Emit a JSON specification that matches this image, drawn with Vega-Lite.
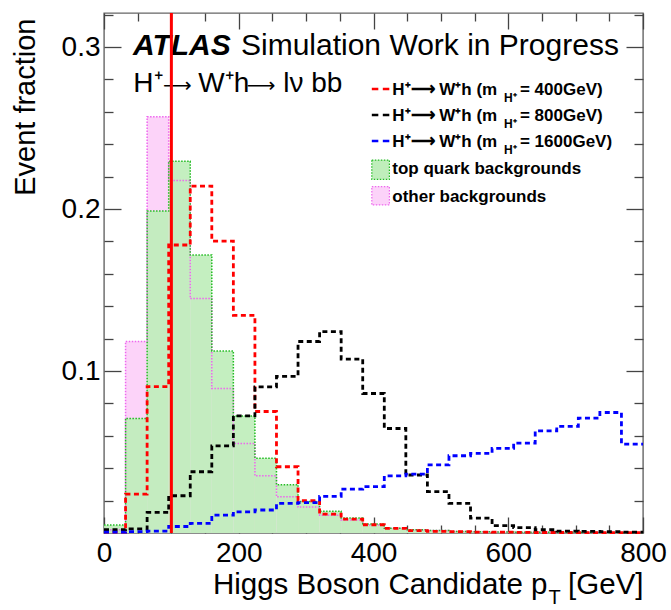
{
  "$schema": "https://vega.github.io/schema/vega-lite/v6.json",
  "autosize": {"type": "none"},
  "width": 539,
  "height": 520,
  "padding": {"left": 104, "top": 13, "right": 28, "bottom": 77},
  "background": "white",
  "data": {"values": [{}]},
  "config": {
    "view": {"stroke": "#666666", "strokeWidth": 1.4},
    "axis": {
      "domain": false,
      "grid": false,
      "labelFont": "Liberation Sans",
      "labelFontSize": 28,
      "labelColor": "#000000",
      "tickColor": "#444444",
      "tickWidth": 1.3,
      "titleFont": "Liberation Sans",
      "titleFontWeight": "normal",
      "titleColor": "#000000"
    },
    "text": {"font": "Liberation Sans", "color": "#000000"}
  },
  "datasets": {
    "hist": [
      {"s": "other", "lo": 0, "hi": 32, "v": 0.002},
      {"s": "other", "lo": 32, "hi": 64, "v": 0.1182},
      {"s": "other", "lo": 64, "hi": 96, "v": 0.2569},
      {"s": "other", "lo": 96, "hi": 128, "v": 0.2176},
      {"s": "other", "lo": 128, "hi": 160, "v": 0.1447},
      {"s": "other", "lo": 160, "hi": 192, "v": 0.0892},
      {"s": "other", "lo": 192, "hi": 224, "v": 0.0553},
      {"s": "other", "lo": 224, "hi": 256, "v": 0.0353},
      {"s": "other", "lo": 256, "hi": 288, "v": 0.0224},
      {"s": "other", "lo": 288, "hi": 320, "v": 0.016},
      {"s": "other", "lo": 320, "hi": 352, "v": 0.011},
      {"s": "other", "lo": 352, "hi": 384, "v": 0.008},
      {"s": "other", "lo": 384, "hi": 416, "v": 0.005},
      {"s": "other", "lo": 416, "hi": 448, "v": 0.003},
      {"s": "other", "lo": 448, "hi": 480, "v": 0.002},
      {"s": "other", "lo": 480, "hi": 512, "v": 0.0015},
      {"s": "other", "lo": 512, "hi": 544, "v": 0.001},
      {"s": "other", "lo": 544, "hi": 576, "v": 0.0008},
      {"s": "other", "lo": 576, "hi": 608, "v": 0.0006},
      {"s": "other", "lo": 608, "hi": 640, "v": 0.0005},
      {"s": "other", "lo": 640, "hi": 672, "v": 0.0004},
      {"s": "other", "lo": 672, "hi": 704, "v": 0.0003},
      {"s": "other", "lo": 704, "hi": 736, "v": 0.0003},
      {"s": "other", "lo": 736, "hi": 768, "v": 0.0002},
      {"s": "other", "lo": 768, "hi": 800, "v": 0.0002},
      {"s": "top", "lo": 0, "hi": 32, "v": 0.0049},
      {"s": "top", "lo": 32, "hi": 64, "v": 0.0707},
      {"s": "top", "lo": 64, "hi": 96, "v": 0.1987},
      {"s": "top", "lo": 96, "hi": 128, "v": 0.2295},
      {"s": "top", "lo": 128, "hi": 160, "v": 0.1716},
      {"s": "top", "lo": 160, "hi": 192, "v": 0.1124},
      {"s": "top", "lo": 192, "hi": 224, "v": 0.0723},
      {"s": "top", "lo": 224, "hi": 256, "v": 0.0462},
      {"s": "top", "lo": 256, "hi": 288, "v": 0.0298},
      {"s": "top", "lo": 288, "hi": 320, "v": 0.0195},
      {"s": "top", "lo": 320, "hi": 352, "v": 0.0134},
      {"s": "top", "lo": 352, "hi": 384, "v": 0.0092},
      {"s": "top", "lo": 384, "hi": 416, "v": 0.0055},
      {"s": "top", "lo": 416, "hi": 448, "v": 0.0029},
      {"s": "top", "lo": 448, "hi": 480, "v": 0.002},
      {"s": "top", "lo": 480, "hi": 512, "v": 0.0015},
      {"s": "top", "lo": 512, "hi": 544, "v": 0.001},
      {"s": "top", "lo": 544, "hi": 576, "v": 0.0008},
      {"s": "top", "lo": 576, "hi": 608, "v": 0.0006},
      {"s": "top", "lo": 608, "hi": 640, "v": 0.0005},
      {"s": "top", "lo": 640, "hi": 672, "v": 0.0004},
      {"s": "top", "lo": 672, "hi": 704, "v": 0.0003},
      {"s": "top", "lo": 704, "hi": 736, "v": 0.0003},
      {"s": "top", "lo": 736, "hi": 768, "v": 0.0002},
      {"s": "top", "lo": 768, "hi": 800, "v": 0.0002},
      {"s": "m400", "lo": 0, "hi": 32, "v": 0.0005},
      {"s": "m400", "lo": 32, "hi": 64, "v": 0.024},
      {"s": "m400", "lo": 64, "hi": 96, "v": 0.0904},
      {"s": "m400", "lo": 96, "hi": 128, "v": 0.1778},
      {"s": "m400", "lo": 128, "hi": 160, "v": 0.2141},
      {"s": "m400", "lo": 160, "hi": 192, "v": 0.1802},
      {"s": "m400", "lo": 192, "hi": 224, "v": 0.1344},
      {"s": "m400", "lo": 224, "hi": 256, "v": 0.075},
      {"s": "m400", "lo": 256, "hi": 288, "v": 0.0409},
      {"s": "m400", "lo": 288, "hi": 320, "v": 0.0199},
      {"s": "m400", "lo": 320, "hi": 352, "v": 0.0117},
      {"s": "m400", "lo": 352, "hi": 384, "v": 0.0086},
      {"s": "m400", "lo": 384, "hi": 416, "v": 0.0051},
      {"s": "m400", "lo": 416, "hi": 448, "v": 0.0029},
      {"s": "m400", "lo": 448, "hi": 480, "v": 0.0015},
      {"s": "m400", "lo": 480, "hi": 512, "v": 0.001},
      {"s": "m400", "lo": 512, "hi": 544, "v": 0.0008},
      {"s": "m400", "lo": 544, "hi": 576, "v": 0.0006},
      {"s": "m400", "lo": 576, "hi": 608, "v": 0.0005},
      {"s": "m400", "lo": 608, "hi": 640, "v": 0.0004},
      {"s": "m400", "lo": 640, "hi": 672, "v": 0.0003},
      {"s": "m400", "lo": 672, "hi": 704, "v": 0.0003},
      {"s": "m400", "lo": 704, "hi": 736, "v": 0.0002},
      {"s": "m400", "lo": 736, "hi": 768, "v": 0.0002},
      {"s": "m400", "lo": 768, "hi": 800, "v": 0.0002},
      {"s": "m800", "lo": 0, "hi": 32, "v": 0.002},
      {"s": "m800", "lo": 32, "hi": 64, "v": 0.0025},
      {"s": "m800", "lo": 64, "hi": 96, "v": 0.0127},
      {"s": "m800", "lo": 96, "hi": 128, "v": 0.023},
      {"s": "m800", "lo": 128, "hi": 160, "v": 0.0378},
      {"s": "m800", "lo": 160, "hi": 192, "v": 0.0538},
      {"s": "m800", "lo": 192, "hi": 224, "v": 0.0723},
      {"s": "m800", "lo": 224, "hi": 256, "v": 0.0902},
      {"s": "m800", "lo": 256, "hi": 288, "v": 0.0967},
      {"s": "m800", "lo": 288, "hi": 320, "v": 0.1182},
      {"s": "m800", "lo": 320, "hi": 352, "v": 0.1243},
      {"s": "m800", "lo": 352, "hi": 384, "v": 0.1073},
      {"s": "m800", "lo": 384, "hi": 416, "v": 0.0861},
      {"s": "m800", "lo": 416, "hi": 448, "v": 0.0645},
      {"s": "m800", "lo": 448, "hi": 480, "v": 0.0358},
      {"s": "m800", "lo": 480, "hi": 512, "v": 0.0255},
      {"s": "m800", "lo": 512, "hi": 544, "v": 0.0183},
      {"s": "m800", "lo": 544, "hi": 576, "v": 0.0092},
      {"s": "m800", "lo": 576, "hi": 608, "v": 0.0045},
      {"s": "m800", "lo": 608, "hi": 640, "v": 0.0033},
      {"s": "m800", "lo": 640, "hi": 672, "v": 0.002},
      {"s": "m800", "lo": 672, "hi": 704, "v": 0.0012},
      {"s": "m800", "lo": 704, "hi": 736, "v": 0.001},
      {"s": "m800", "lo": 736, "hi": 768, "v": 0.0008},
      {"s": "m800", "lo": 768, "hi": 800, "v": 0.0006},
      {"s": "m1600", "lo": 0, "hi": 32, "v": 0.0005},
      {"s": "m1600", "lo": 32, "hi": 64, "v": 0.0008},
      {"s": "m1600", "lo": 64, "hi": 96, "v": 0.0012},
      {"s": "m1600", "lo": 96, "hi": 128, "v": 0.004},
      {"s": "m1600", "lo": 128, "hi": 160, "v": 0.006},
      {"s": "m1600", "lo": 160, "hi": 192, "v": 0.011},
      {"s": "m1600", "lo": 192, "hi": 224, "v": 0.0131},
      {"s": "m1600", "lo": 224, "hi": 256, "v": 0.0142},
      {"s": "m1600", "lo": 256, "hi": 288, "v": 0.0183},
      {"s": "m1600", "lo": 288, "hi": 320, "v": 0.0187},
      {"s": "m1600", "lo": 320, "hi": 352, "v": 0.0226},
      {"s": "m1600", "lo": 352, "hi": 384, "v": 0.0271},
      {"s": "m1600", "lo": 384, "hi": 416, "v": 0.0286},
      {"s": "m1600", "lo": 416, "hi": 448, "v": 0.0353},
      {"s": "m1600", "lo": 448, "hi": 480, "v": 0.0364},
      {"s": "m1600", "lo": 480, "hi": 512, "v": 0.0421},
      {"s": "m1600", "lo": 512, "hi": 544, "v": 0.0477},
      {"s": "m1600", "lo": 544, "hi": 576, "v": 0.0491},
      {"s": "m1600", "lo": 576, "hi": 608, "v": 0.0522},
      {"s": "m1600", "lo": 608, "hi": 640, "v": 0.0555},
      {"s": "m1600", "lo": 640, "hi": 672, "v": 0.0631},
      {"s": "m1600", "lo": 672, "hi": 704, "v": 0.0658},
      {"s": "m1600", "lo": 704, "hi": 736, "v": 0.0709},
      {"s": "m1600", "lo": 736, "hi": 768, "v": 0.0744},
      {"s": "m1600", "lo": 768, "hi": 800, "v": 0.0549}
    ]
  },
  "resolve": {"axis": {"x": "independent", "y": "independent"}},
  "layer": [
    {
      "description": "other backgrounds, filled bins; carries the labelled bottom and left axes",
      "data": {"name": "hist"},
      "transform": [{"filter": "datum.s == 'other'"}],
      "mark": {"type": "rect", "fill": "#fcd3f9"},
      "encoding": {
        "x": {"field": "lo", "type": "quantitative",
          "scale": {"domain": [0, 800], "nice": false, "zero": false},
          "axis": {"orient": "bottom", "values": [0, 200, 400, 600, 800], "ticks": false,
            "labelPadding": 6, "labelFlush": false, "labelOverlap": false,
            "title": "Higgs Boson Candidate p", "titleFontSize": 29.5, "titleAnchor": null,
            "titleAlign": "right", "titleBaseline": "alphabetic", "titleX": 443, "titleY": 60}},
        "x2": {"field": "hi"},
        "y": {"field": "v", "type": "quantitative",
          "scale": {"domain": [0, 0.321], "nice": false, "zero": false},
          "axis": {"orient": "left", "values": [0.1, 0.2, 0.3], "format": ".1f", "ticks": false,
            "labelPadding": 4, "labelOverlap": false,
            "title": "Event fraction", "titleFontSize": 29, "titleAngle": 270,
            "titleAlign": "right", "titleBaseline": "alphabetic", "titleX": -70, "titleY": 5}},
        "y2": {"datum": 0}
      }
    },
    {
      "description": "top quark backgrounds, filled bins; major ticks on bottom and left",
      "data": {"name": "hist"},
      "transform": [{"filter": "datum.s == 'top'"}],
      "mark": {"type": "rect", "fill": "#bfeebb", "opacity": 0.92},
      "encoding": {
        "x": {"field": "lo", "type": "quantitative",
          "axis": {"orient": "bottom", "values": [0, 200, 400, 600, 800], "labels": false,
            "tickSize": -16, "title": "T", "titleFontSize": 20, "titleAnchor": null,
            "titleAlign": "left", "titleBaseline": "alphabetic", "titleX": 444, "titleY": 70}},
        "x2": {"field": "hi"},
        "y": {"field": "v", "type": "quantitative",
          "axis": {"orient": "left", "values": [0.1, 0.2, 0.3], "labels": false, "tickSize": -17, "title": null}},
        "y2": {"datum": 0}
      }
    },
    {
      "description": "other backgrounds outline; minor ticks on bottom and left",
      "data": {"name": "hist"},
      "transform": [{"filter": "datum.s == 'other'"}, {"fold": ["lo", "hi"], "as": ["k", "edge"]}],
      "mark": {"type": "line", "stroke": "#ee66ee", "strokeWidth": 1.5, "strokeDash": [1.5, 1.5]},
      "encoding": {
        "x": {"field": "edge", "type": "quantitative",
          "axis": {"orient": "bottom", "values": [50, 100, 150, 250, 300, 350, 450, 500, 550, 650, 700, 750],
            "labels": false, "tickSize": -8, "title": "[GeV]", "titleFontSize": 29.5, "titleAnchor": null,
            "titleAlign": "right", "titleBaseline": "alphabetic", "titleX": 539, "titleY": 60}},
        "y": {"field": "v", "type": "quantitative",
          "axis": {"orient": "left", "values": [0.02, 0.04, 0.06, 0.08, 0.12, 0.14, 0.16, 0.18, 0.22, 0.24, 0.26, 0.28, 0.32],
            "labels": false, "tickSize": -9, "title": null}},
        "order": {"value": null}
      }
    },
    {
      "description": "top quark backgrounds outline; major ticks on top and right",
      "data": {"name": "hist"},
      "transform": [{"filter": "datum.s == 'top'"}, {"fold": ["lo", "hi"], "as": ["k", "edge"]}],
      "mark": {"type": "line", "stroke": "#22bb22", "strokeWidth": 1.5, "strokeDash": [1.5, 1.5]},
      "encoding": {
        "x": {"field": "edge", "type": "quantitative",
          "axis": {"orient": "top", "values": [0, 200, 400, 600, 800], "labels": false, "tickSize": -16, "title": null}},
        "y": {"field": "v", "type": "quantitative",
          "axis": {"orient": "right", "values": [0.1, 0.2, 0.3], "labels": false, "tickSize": -17, "title": null}},
        "order": {"value": null}
      }
    },
    {
      "description": "signal histograms as dashed step outlines; minor ticks on top and right",
      "data": {"name": "hist"},
      "transform": [{"filter": "datum.s == 'm400' || datum.s == 'm800' || datum.s == 'm1600'"}, {"fold": ["lo", "hi"], "as": ["k", "edge"]}],
      "mark": {"type": "line", "strokeWidth": 2.8, "strokeDash": [5, 3.5]},
      "encoding": {
        "x": {"field": "edge", "type": "quantitative",
          "axis": {"orient": "top", "values": [50, 100, 150, 250, 300, 350, 450, 500, 550, 650, 700, 750],
            "labels": false, "tickSize": -8, "title": null}},
        "y": {"field": "v", "type": "quantitative",
          "axis": {"orient": "right", "values": [0.02, 0.04, 0.06, 0.08, 0.12, 0.14, 0.16, 0.18, 0.22, 0.24, 0.26, 0.28, 0.32],
            "labels": false, "tickSize": -9, "title": null}},
        "stroke": {"field": "s", "type": "nominal",
          "scale": {"domain": ["m400", "m800", "m1600"], "range": ["#ff0000", "#000000", "#0000ff"]}, "legend": null},
        "order": {"value": null}
      }
    },
    {
      "mark": {"type": "text", "fontSize": 30, "fontWeight": "bold", "fontStyle": "italic", "align": "left", "baseline": "alphabetic"},
      "encoding": {"x": {"datum": 43, "axis": null}, "y": {"datum": 0.2951, "axis": null}, "text": {"value": "ATLAS"}}
    },
    {
      "mark": {"type": "text", "fontSize": 30, "align": "left", "baseline": "alphabetic"},
      "encoding": {"x": {"datum": 203.3, "axis": null}, "y": {"datum": 0.2951, "axis": null}, "text": {"value": "Simulation Work in Progress"}}
    },
    {
      "description": "decay chain label, text pieces",
      "data": {"values": [
        {"t": "H⁺", "g": 43.5},
        {"t": "W⁺h", "g": 140},
        {"t": "lν bb", "g": 266.1}
      ]},
      "mark": {"type": "text", "fontSize": 28, "align": "left", "baseline": "alphabetic"},
      "encoding": {"x": {"field": "g", "type": "quantitative", "axis": null}, "y": {"datum": 0.2724, "axis": null}, "text": {"field": "t"}}
    },
    {
      "description": "decay chain label, arrows",
      "data": {"values": [{"g": 87.6}, {"g": 211.8}]},
      "mark": {"type": "text", "font": "DejaVu Sans", "fontSize": 20, "align": "left", "baseline": "alphabetic"},
      "encoding": {"x": {"field": "g", "type": "quantitative", "axis": null}, "y": {"datum": 0.2724, "axis": null}, "text": {"value": "⟶"}}
    },
    {
      "description": "legend keys for the signal lines",
      "data": {"values": [{"s": "m400", "v": 0.2741}, {"s": "m800", "v": 0.258}, {"s": "m1600", "v": 0.242}]},
      "mark": {"type": "rule", "strokeWidth": 2.6, "strokeDash": [6.5, 4.5]},
      "encoding": {
        "x": {"datum": 397.5, "axis": null}, "x2": {"datum": 423.6},
        "y": {"field": "v", "type": "quantitative", "axis": null},
        "stroke": {"field": "s", "type": "nominal", "legend": null}
      }
    },
    {
      "mark": {"type": "rect", "fill": "#bfeebb", "stroke": "#22bb22", "strokeWidth": 1.2, "strokeDash": [1.5, 1.5]},
      "encoding": {"x": {"datum": 397.5, "axis": null}, "x2": {"datum": 423.6}, "y": {"datum": 0.2302, "axis": null}, "y2": {"datum": 0.2183}}
    },
    {
      "mark": {"type": "rect", "fill": "#fcd3f9", "stroke": "#ee66ee", "strokeWidth": 1.2, "strokeDash": [1.5, 1.5]},
      "encoding": {"x": {"datum": 397.5, "axis": null}, "x2": {"datum": 423.6}, "y": {"datum": 0.2138, "axis": null}, "y2": {"datum": 0.2025}}
    },
    {
      "description": "legend labels: main text",
      "data": {"values": [
        {"t": "H⁺⟶ W⁺h (m", "v": 0.2704},
        {"t": "H⁺⟶ W⁺h (m", "v": 0.2543},
        {"t": "H⁺⟶ W⁺h (m", "v": 0.2383},
        {"t": "top quark backgrounds", "v": 0.2216},
        {"t": "other backgrounds", "v": 0.2046}
      ]},
      "mark": {"type": "text", "fontSize": 17, "fontWeight": "bold", "align": "left", "baseline": "alphabetic"},
      "encoding": {"x": {"datum": 427.9, "axis": null}, "y": {"field": "v", "type": "quantitative", "axis": null}, "text": {"field": "t"}}
    },
    {
      "description": "legend labels: subscript of the mass symbol",
      "data": {"values": [{"v": 0.2704}, {"v": 0.2543}, {"v": 0.2383}]},
      "mark": {"type": "text", "fontSize": 12, "fontWeight": "bold", "align": "left", "baseline": "alphabetic", "dy": 7},
      "encoding": {"x": {"datum": 593.6, "axis": null}, "y": {"field": "v", "type": "quantitative", "axis": null}, "text": {"value": "H⁺"}}
    },
    {
      "description": "legend labels: mass value",
      "data": {"values": [
        {"t": "= 400GeV)", "v": 0.2704},
        {"t": "= 800GeV)", "v": 0.2543},
        {"t": "= 1600GeV)", "v": 0.2383}
      ]},
      "mark": {"type": "text", "fontSize": 17, "fontWeight": "bold", "align": "left", "baseline": "alphabetic"},
      "encoding": {"x": {"datum": 617.4, "axis": null}, "y": {"field": "v", "type": "quantitative", "axis": null}, "text": {"field": "t"}}
    },
    {
      "description": "selection cut at 100 GeV",
      "mark": {"type": "rule", "stroke": "#ff0000", "strokeWidth": 3},
      "encoding": {"x": {"datum": 100, "axis": null}}
    }
  ]
}
